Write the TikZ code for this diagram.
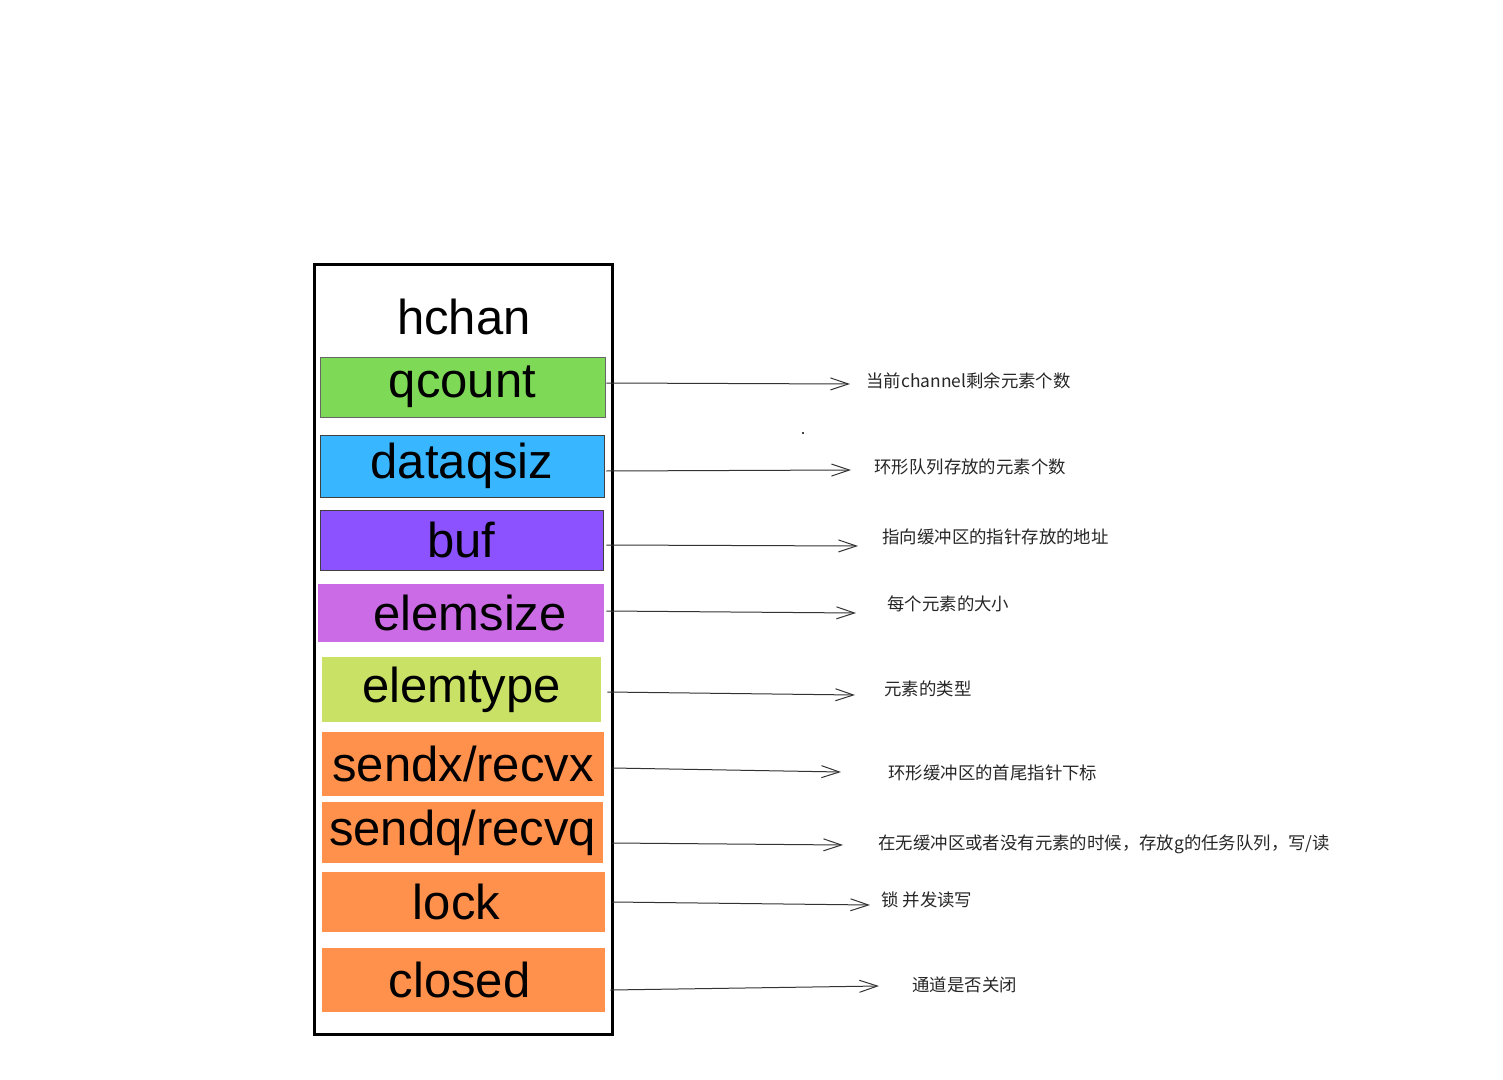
\documentclass[tikz,border=0pt]{standalone}
\usepackage{fontspec}
\setmainfont{Liberation Sans}
\newfontfamily\cjk{Noto Sans CJK SC}
\usetikzlibrary{arrows.meta}

\definecolor{fgreen}{HTML}{7ED957}
\definecolor{fblue}{HTML}{38B6FF}
\definecolor{fpurple}{HTML}{8C52FF}
\definecolor{fviolet}{HTML}{CB6CE6}
\definecolor{flime}{HTML}{C9E265}
\definecolor{forange}{HTML}{FF914D}

\begin{document}
\begin{tikzpicture}[x=0.5pt,y=-0.5pt,
    field/.style={inner sep=0pt,font=\fontsize{24.5}{28}\selectfont},
    note/.style={anchor=west,inner sep=0pt,text=black!85,font=\cjk\fontsize{8.7}{11}\selectfont},
    ptr/.style={-{Straight Barb[length=9pt,width=6pt]},line width=0.5pt,black!80}]
    \useasboundingbox (0,0) rectangle (1503,1080);

    % hchan struct
    \draw[line width=1.5pt] (314,265) rectangle (612,1034);
    \node[inner sep=0pt,font=\fontsize{24.5}{30}\selectfont] (hchan) at (464,317) {hchan};

    \node[field,fill=fgreen,draw=black!60,minimum width=142.5pt,minimum height=30pt] (qcount) at (462.5,387) {qcount};
    \node[field,fill=fblue,draw=black!75,minimum width=142pt,minimum height=31pt] (dataqsiz) at (462,466) {dataqsiz};
    \node[field,fill=fpurple,draw=black!75,minimum width=141.5pt,minimum height=30pt] (buf) at (461.5,540) {buf};
    \node[field,fill=fviolet,minimum width=143pt,minimum height=29pt] (elemsize) at (461,613) {\hspace*{9pt}elemsize};
    \node[field,fill=flime,minimum width=139.5pt,minimum height=32.5pt] (elemtype) at (461.5,689.5) {elemtype};
    \node[field,fill=forange,minimum width=141pt,minimum height=32pt] (sendx) at (463,764) {sendx/recvx};
    \node[field,fill=forange,minimum width=140.5pt,minimum height=30.5pt] (sendq) at (462.5,832.5) {sendq/recvq};
    \node[field,fill=forange,minimum width=141.5pt,minimum height=30pt] (lock) at (463.5,902) {lock\hspace*{7pt}};
    \node[field,fill=forange,minimum width=141.5pt,minimum height=32pt] (closed) at (463.5,980) {closed\hspace*{4pt}};

    \fill (803,433) circle (1.2);

    % notes
    \node[note] (n1) at (866,381) {当前channel剩余元素个数};
    \node[note] (n2) at (874,467) {环形队列存放的元素个数};
    \node[note] (n3) at (882,537) {指向缓冲区的指针存放的地址};
    \node[note] (n4) at (887,604) {每个元素的大小};
    \node[note] (n5) at (884,689) {元素的类型};
    \node[note] (n6) at (888,773) {环形缓冲区的首尾指针下标};
    \node[note] (n7) at (878,844) {在无缓冲区或者没有元素的时候，存放g的任务队列，写/读};
    \node[note] (n8) at (881,900) {锁 并发读写};
    \node[note] (n9) at (912,985) {通道是否关闭};

    \coordinate (t1) at (850,384);
    \coordinate (t2) at (851,470);
    \coordinate (t3) at (858,546);
    \coordinate (t4) at (856,613);
    \coordinate (t5) at (855,695);
    \coordinate (t6) at (841,772);
    \coordinate (t7) at (843,845);
    \coordinate (t8) at (870,905);
    \coordinate (t9) at (879,986);

    \draw[ptr] (qcount.east) ++(1,-4) -- (t1);
    \draw[ptr] (dataqsiz.east) ++(2,5) -- (t2);
    \draw[ptr] (buf.east) ++(3,5) -- (t3);
    \draw[ptr] (elemsize.east) ++(2,-2) -- (t4);
    \draw[ptr] (elemtype.east) ++(6,2.5) -- (t5);
    \draw[ptr] (sendx.east) ++(8,4) -- (t6);
    \draw[ptr] (sendq.east) ++(9,10.5) -- (t7);
    \draw[ptr] (lock.east) ++(7,0) -- (t8);
    \draw[ptr] (closed.east) ++(5,10) -- (t9);
\end{tikzpicture}
\end{document}
